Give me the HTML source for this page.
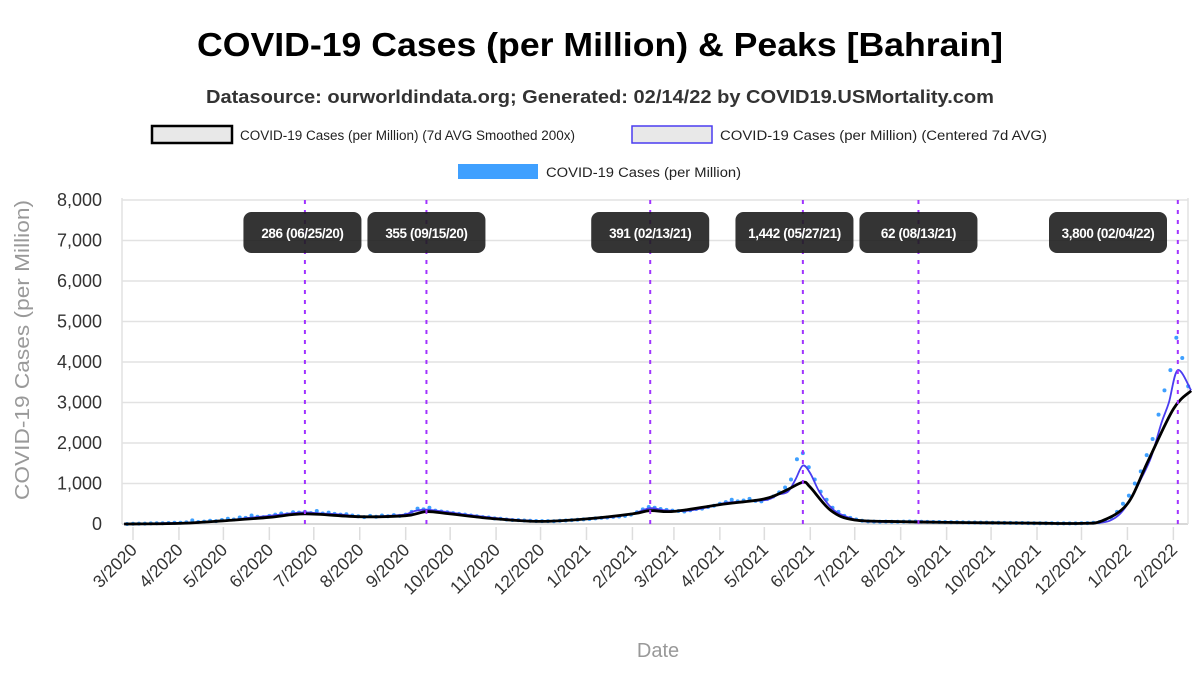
<!DOCTYPE html>
<html><head><meta charset="utf-8">
<style>
html,body{margin:0;padding:0;background:#fff;}
body{width:1200px;height:670px;overflow:hidden;font-family:"Liberation Sans",sans-serif;}
</style></head>
<body>
<svg id="chart" width="1200" height="670" viewBox="0 0 1200 670" xmlns="http://www.w3.org/2000/svg" font-family="Liberation Sans, sans-serif">
<text x="600" y="56" text-anchor="middle" font-size="33" font-weight="bold" fill="#000" textLength="806" lengthAdjust="spacingAndGlyphs">COVID-19 Cases (per Million) &amp; Peaks [Bahrain]</text>
<text x="600" y="103" text-anchor="middle" font-size="18" font-weight="bold" fill="#333" textLength="788" lengthAdjust="spacingAndGlyphs">Datasource: ourworldindata.org; Generated: 02/14/22 by COVID19.USMortality.com</text>
<g>
<g>
<rect x="152" y="126" width="80" height="17" fill="#e8e8e8" stroke="#000" stroke-width="2.5"/>
<text x="240" y="140" font-size="13.5" fill="#222" textLength="335" lengthAdjust="spacingAndGlyphs">COVID-19 Cases (per Million) (7d AVG Smoothed 200x)</text></g>
<g>
<rect x="632" y="126" width="80" height="17" fill="#e8e8e8" stroke="#4a3cf0" stroke-width="1.5"/>
<text x="720" y="140" font-size="13.5" fill="#222" textLength="327" lengthAdjust="spacingAndGlyphs">COVID-19 Cases (per Million) (Centered 7d AVG)</text></g>
<g>
<rect x="458" y="164" width="80" height="15" fill="#3fa0ff"/>
<text x="546" y="177" font-size="13.5" fill="#222" textLength="195" lengthAdjust="spacingAndGlyphs">COVID-19 Cases (per Million)</text></g>
</g>
<g id="grid"></g>
<g id="yaxis"></g>
<g id="xaxis"></g>
<g id="plot"></g>
<g id="peaks"></g>
<text transform="translate(29,350) rotate(-90)" text-anchor="middle" font-size="20" fill="#999" textLength="300" lengthAdjust="spacingAndGlyphs">COVID-19 Cases (per Million)</text>
<text x="658" y="657" text-anchor="middle" font-size="20" fill="#999">Date</text>
</svg>
<script>
const yTicks=[0,1000,2000,3000,4000,5000,6000,7000,8000];
const yTickLabels=["0","1,000","2,000","3,000","4,000","5,000","6,000","7,000","8,000"];
const xTickDates=["2020-03-01","2020-04-01","2020-05-01","2020-06-01","2020-07-01","2020-08-01","2020-09-01","2020-10-01","2020-11-01","2020-12-01","2021-01-01","2021-02-01","2021-03-01","2021-04-01","2021-05-01","2021-06-01","2021-07-01","2021-08-01","2021-09-01","2021-10-01","2021-11-01","2021-12-01","2022-01-01","2022-02-01"];
const xTickLabels=["3/2020","4/2020","5/2020","6/2020","7/2020","8/2020","9/2020","10/2020","11/2020","12/2020","1/2021","2/2021","3/2021","4/2021","5/2021","6/2021","7/2021","8/2021","9/2021","10/2021","11/2021","12/2021","1/2022","2/2022"];
const peakDates=["2020-06-25","2020-09-15","2021-02-13","2021-05-27","2021-08-13","2022-02-04"];
const peakLabels=["286 (06/25/20)","355 (09/15/20)","391 (02/13/21)","1,442 (05/27/21)","62 (08/13/21)","3,800 (02/04/22)"];
const dotStart="2020-02-26";
const dotStepDays=4;
const dotValues=[0,5,10,8,15,20,18,25,30,
30,40,90,50,60,80,70,
100,130,110,160,150,210,180,170,
200,230,260,240,290,280,300,270,
320,260,280,250,230,240,210,
190,170,200,180,210,190,220,200,
230,300,380,360,400,330,310,290,
270,250,230,210,190,170,160,
140,130,110,100,95,85,80,75,
70,72,68,80,85,95,105,115,
125,140,150,160,175,185,200,
230,290,360,420,400,370,350,
330,320,310,340,370,380,420,450,
500,540,600,560,580,620,570,560,
620,680,780,900,1100,1600,1750,
1400,1100,800,600,400,300,200,150,
110,80,65,60,55,58,55,
55,60,62,58,55,52,50,48,
45,44,42,40,38,36,35,33,
32,30,28,27,25,24,22,
20,19,18,17,16,15,15,16,
18,22,30,45,80,160,300,
500,700,1000,1300,1700,2100,2700,3300,
3800,4600,4100,3400];
const avgDates=["2020-02-24","2020-03-09","2020-03-23","2020-04-06","2020-04-20","2020-05-04","2020-05-18","2020-06-01","2020-06-15","2020-06-25","2020-07-06","2020-07-20","2020-08-03","2020-08-17","2020-08-31","2020-09-07","2020-09-15","2020-09-28","2020-10-12","2020-10-26","2020-11-09","2020-11-23","2020-12-07","2020-12-21","2021-01-04","2021-01-18","2021-02-01","2021-02-13","2021-02-22","2021-03-08","2021-03-22","2021-04-05","2021-04-19","2021-05-03","2021-05-10","2021-05-17","2021-05-22","2021-05-27","2021-06-01","2021-06-07","2021-06-14","2021-06-21","2021-07-05","2021-07-19","2021-08-13","2021-09-06","2021-10-04","2021-11-01","2021-11-29","2021-12-13","2021-12-20","2021-12-27","2022-01-03","2022-01-10","2022-01-17","2022-01-24","2022-01-29","2022-02-04","2022-02-13"];
const avgValues=[2,10,20,30,60,90,150,200,260,286,260,230,180,195,230,320,355,300,230,170,120,85,70,90,130,170,250,391,340,320,400,520,560,600,720,800,1100,1442,1250,800,450,250,80,55,62,40,30,20,15,30,80,250,600,1100,1650,2500,3000,3800,3300];
const smoothDates=["2020-02-24","2020-04-01","2020-05-01","2020-06-01","2020-06-25","2020-08-01","2020-09-01","2020-09-15","2020-10-01","2020-11-01","2020-12-01","2021-01-01","2021-02-01","2021-02-13","2021-03-01","2021-04-01","2021-05-01","2021-05-15","2021-05-27","2021-06-01","2021-06-15","2021-07-01","2021-08-01","2021-09-01","2021-10-01","2021-11-01","2021-12-01","2021-12-15","2022-01-01","2022-01-15","2022-02-01","2022-02-13"];
const smoothValues=[0,15,80,165,250,180,205,305,250,125,65,125,250,330,310,480,620,820,1030,905,330,100,60,40,30,20,15,80,500,1560,2840,3290];

const NS="http://www.w3.org/2000/svg";
const X0=133, PXD=1.482, Y0=524, PXV=0.0405, LEFT=122, RIGHT=1188;
const base=Date.UTC(2020,2,1);
function days(s){const p=s.split("-");return (Date.UTC(+p[0],+p[1]-1,+p[2])-base)/86400000;}
function xS(d){return X0+d*PXD;}
function yS(v){return Y0-v*PXV;}
function mk(tag,attrs,parent){const e=document.createElementNS(NS,tag);for(const k in attrs)e.setAttribute(k,attrs[k]);parent.appendChild(e);return e;}
const grid=document.getElementById("grid"),ya=document.getElementById("yaxis"),xa=document.getElementById("xaxis"),plot=document.getElementById("plot"),pk=document.getElementById("peaks");
yTicks.forEach((v,i)=>{
  const l=mk("line",{x1:LEFT,x2:RIGHT,y1:yS(v),y2:yS(v),stroke:i===0?"#ccc":"#e2e2e2","stroke-width":1.5},grid);
  
  
  const t=mk("text",{x:102,y:yS(v)+6,"text-anchor":"end","font-size":18,fill:"#333"},ya);
  t.textContent=yTickLabels[i];
  
  
});
mk("line",{x1:LEFT,x2:LEFT,y1:198,y2:Y0,stroke:"#e2e2e2","stroke-width":1.5},grid);
mk("line",{x1:RIGHT,x2:RIGHT,y1:198,y2:Y0,stroke:"#e2e2e2","stroke-width":1.5},grid);
xTickDates.forEach((d,i)=>{
  const x=xS(days(d));
  const tk=mk("line",{x1:x,x2:x,y1:Y0+3,y2:Y0+16,stroke:"#ddd","stroke-width":1.5},xa);
  
  
  const t=mk("text",{transform:`translate(${x+5},${Y0+27}) rotate(-45)`,"text-anchor":"end","font-size":17.5,fill:"#333"},xa);
  t.textContent=xTickLabels[i];
  
  
});
dotValues.forEach((v,i)=>{
  const d=days(dotStart)+i*dotStepDays;
  const c=mk("circle",{cx:xS(d),cy:yS(v),r:2,fill:"#3fa0ff"},plot);
  
  
});
function smoothPath(ds,vs){
  const p=ds.map((d,i)=>[xS(days(d)),yS(vs[i])]);
  let s="M"+p[0][0]+","+p[0][1];
  for(let i=0;i<p.length-1;i++){
    const p0=p[Math.max(0,i-1)],p1=p[i],p2=p[i+1],p3=p[Math.min(p.length-1,i+2)];
    const c1=[p1[0]+(p2[0]-p0[0])/6,p1[1]+(p2[1]-p0[1])/6],c2=[p2[0]-(p3[0]-p1[0])/6,p2[1]-(p3[1]-p1[1])/6];
    s+=` C${c1[0].toFixed(1)},${c1[1].toFixed(1)} ${c2[0].toFixed(1)},${c2[1].toFixed(1)} ${p2[0].toFixed(1)},${p2[1].toFixed(1)}`;
  }
  return s;
}
const avg=mk("path",{d:smoothPath(avgDates,avgValues),fill:"none",stroke:"#4a3cf0","stroke-width":1.8},plot);


const sm=mk("path",{d:smoothPath(smoothDates,smoothValues),fill:"none",stroke:"#000","stroke-width":2.8},plot);


let prevRight=-1e9;
peakDates.forEach((d,i)=>{
  const x=xS(days(d));
  const l=mk("line",{x1:x,x2:x,y1:200,y2:Y0,stroke:"#a033ff","stroke-width":2,"stroke-dasharray":"4,6"},pk);
  
  
  const w=118;
  let bx=x-w/2;
  if(bx+w>1177) bx=1177-w-10;
  const next=peakDates[i+1]?xS(days(peakDates[i+1]))-w/2:1e9;
  if(bx+w>next-4) bx=next-4-w-2;
  if(bx<prevRight+2) bx=prevRight+2;
  prevRight=bx+w;
  const r=mk("rect",{x:bx,y:212,width:w,height:41,rx:8,fill:"#1e1e1e","fill-opacity":0.9},pk);
  
  
  const t=mk("text",{x:bx+w/2,y:238,"text-anchor":"middle","font-size":13.5,"font-weight":"bold",fill:"#fff","letter-spacing":"-0.4"},pk);
  t.textContent=peakLabels[i];
  
  
});
</script>
</body></html>
